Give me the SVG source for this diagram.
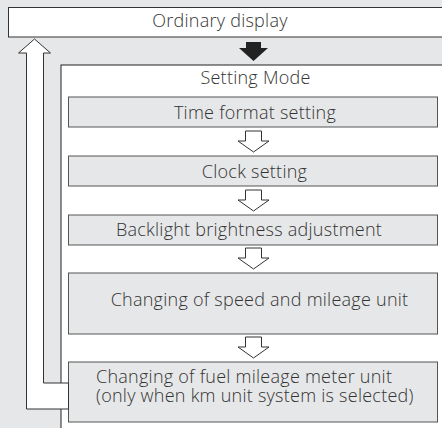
<svg xmlns="http://www.w3.org/2000/svg" width="442" height="428" viewBox="0 0 442 428">
<style>
.t{font-family:"Open Sans","Noto Sans","DejaVu Sans",sans-serif;font-size:18px;font-weight:300;letter-spacing:0.25px;fill:#333}
.c{text-anchor:middle}
.step{fill:#e6e7e8;stroke:#555;stroke-width:1}
.ha{fill:#fff;stroke:#333;stroke-width:1}
</style>
<rect x="0" y="0" width="442" height="428" fill="#e6e7e8"/>
<g id="ordinary">
<rect x="8.5" y="7.5" width="440" height="29.5" fill="#fff" stroke="#333" stroke-width="1"/>
<text class="t c" x="220" y="27">Ordinary display</text>
</g>
<g id="setting-mode">
<rect x="61" y="65" width="400" height="400" fill="#fff" stroke="#222" stroke-width="1"/>
<text class="t c" x="255.5" y="83.5">Setting Mode</text>
</g>
<g id="time-format">
<rect class="step" x="68.5" y="97" width="369" height="30"/>
<text class="t c" x="255" y="119">Time format setting</text>
</g>
<g id="clock">
<rect class="step" x="68.5" y="156" width="369" height="30"/>
<text class="t c" x="254.5" y="177.5">Clock setting</text>
</g>
<g id="backlight">
<rect class="step" x="68.5" y="215" width="369" height="30"/>
<text class="t c" x="249" y="236">Backlight brightness adjustment</text>
</g>
<g id="speed-unit">
<rect class="step" x="68.5" y="273" width="369" height="61"/>
<text class="t c" x="259.5" y="306">Changing of speed and mileage unit</text>
</g>
<g id="fuel-unit">
<rect class="step" x="68.5" y="362" width="369" height="60"/>
<text class="t" x="96" y="382.7">Changing of fuel mileage meter unit</text>
<text class="t" x="96" y="401.7">(only when km unit system is selected)</text>
</g>
<g id="connectors">
<polygon points="246,42 261,42 261,48 268,48 253.5,61 239,48 246,48" fill="#222"/>
<polygon class="ha" points="245.5,131 261.5,131 261.5,141 269,141 253.5,152 238,141 245.5,141"/>
<polygon class="ha" points="245.5,190 261.5,190 261.5,200 269,200 253.5,211 238,200 245.5,200"/>
<polygon class="ha" points="245.5,248 261.5,248 261.5,258 269,258 253.5,269 238,258 245.5,258"/>
<polygon class="ha" points="245.5,337 261.5,337 261.5,347 269,347 253.5,358 238,347 245.5,347"/>
<polygon class="ha" points="68.5,383 43.5,383 43.5,53 50.5,53 34.5,39 18.5,53 26.5,53 26.5,409 68.5,409"/>
</g>
</svg>
